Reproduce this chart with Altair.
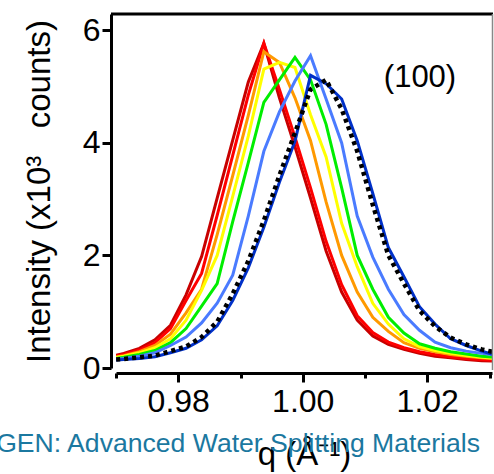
import altair as alt
import pandas as pd

# q grid (Å^-1)
q = [0.96875, 0.97125, 0.97375, 0.97625, 0.97875, 0.98125, 0.98375, 0.98625,
     0.98875, 0.99125, 0.99375, 0.99625, 0.99875, 1.00125, 1.00375, 1.00625,
     1.00875, 1.01125, 1.01375, 1.01625, 1.01875, 1.02125, 1.02375, 1.02625,
     1.02875, 1.03125]

# intensities (x10^3 counts)
dark_red = [0.19, 0.26, 0.35, 0.50, 0.76, 1.30, 1.98, 3.02, 4.05, 5.08, 5.77, 4.80, 3.93,
            3.02, 2.08, 1.35, 0.85, 0.57, 0.42, 0.33, 0.26, 0.21, 0.18, 0.15, 0.13, 0.12]
red = [0.18, 0.24, 0.32, 0.45, 0.70, 1.20, 1.68, 2.71, 3.78, 4.85, 5.77, 4.95, 4.10,
       3.20, 2.25, 1.48, 0.93, 0.63, 0.46, 0.36, 0.29, 0.24, 0.20, 0.17, 0.15, 0.13]
orange = [0.17, 0.22, 0.29, 0.40, 0.60, 0.98, 1.40, 2.37, 3.42, 4.49, 5.62, 5.43, 4.80,
          4.04, 2.95, 2.00, 1.35, 0.90, 0.65, 0.45, 0.35, 0.29, 0.24, 0.21, 0.18, 0.16]
yellow = [0.16, 0.21, 0.27, 0.36, 0.52, 0.85, 1.38, 2.00, 3.05, 4.12, 5.31, 5.43, 5.34,
          4.50, 3.75, 2.57, 1.80, 1.15, 0.78, 0.52, 0.38, 0.31, 0.26, 0.22, 0.19, 0.17]
green = [0.15, 0.19, 0.24, 0.31, 0.45, 0.70, 1.10, 1.50, 2.60, 3.65, 4.72, 5.12, 5.52,
         5.12, 4.33, 3.20, 2.00, 1.40, 0.90, 0.62, 0.43, 0.35, 0.29, 0.25, 0.21, 0.19]
light_blue = [0.15, 0.17, 0.21, 0.27, 0.40, 0.55, 0.80, 1.15, 1.65, 2.70, 3.85, 4.55, 5.10,
              5.55, 4.78, 4.00, 2.70, 1.97, 1.40, 0.95, 0.67, 0.46, 0.36, 0.30, 0.26, 0.23]
dark_blue = [0.13, 0.15, 0.17, 0.20, 0.27, 0.35, 0.50, 0.75, 1.20, 1.78, 2.50, 3.30, 4.03,
             5.20, 5.05, 4.78, 4.04, 3.10, 2.14, 1.62, 1.09, 0.78, 0.52, 0.40, 0.30, 0.22]
dotted = [0.14, 0.16, 0.19, 0.22, 0.30, 0.38, 0.55, 0.82, 1.32, 1.90, 2.62, 3.42, 4.18,
          4.95, 5.12, 4.60, 3.85, 2.90, 2.00, 1.50, 1.02, 0.74, 0.54, 0.42, 0.33, 0.27]

series = [
    ("dark_red", dark_red, "#c80000"),
    ("red", red, "#ff0000"),
    ("orange", orange, "#ff9900"),
    ("yellow", yellow, "#ffff00"),
    ("green", green, "#00ee00"),
    ("light_blue", light_blue, "#4a7bff"),
    ("dark_blue", dark_blue, "#0030c8"),
]

x_ticks = [0.97, 0.98, 0.99, 1.00, 1.01, 1.02, 1.03]
y_ticks = [0, 2, 4, 6]

FONT = "Liberation Sans"

x_enc = alt.X(
    "q:Q",
    scale=alt.Scale(domain=[0.97, 1.0304], nice=False, zero=False),
    axis=alt.Axis(
        values=x_ticks,
        labelExpr="round(datum.value*100) % 2 == 0 ? format(datum.value, '.2f') : ''",
        tickSize={"condition": {"test": "round(datum.value*100) % 2 == 0", "value": 9}, "value": 5},
        tickWidth=3,
        tickColor="black",
        domainWidth=3,
        domainColor="black",
        offset=5,
        grid=False,
        labelFont=FONT,
        labelFontSize=32,
        labelColor="black",
        labelPadding=4,
        labelFlush=False,
        labelOverlap=False,
        title="q (Å⁻¹)",
        titleFont=FONT,
        titleFontSize=33,
        titleFontWeight="normal",
        titleColor="black",
        titlePadding=21,
    ),
)
y_enc = alt.Y(
    "intensity:Q",
    scale=alt.Scale(domain=[0, 6.29], nice=False),
    axis=alt.Axis(
        values=y_ticks,
        tickSize=9,
        tickWidth=3,
        tickColor="black",
        domainWidth=3,
        domainColor="black",
        offset=5,
        grid=False,
        labelFont=FONT,
        labelFontSize=32,
        labelColor="black",
        labelPadding=2,
        title="Intensity (x10³\u00a0\u00a0\u00a0counts)",
        titleFont=FONT,
        titleFontSize=33,
        titleFontWeight="normal",
        titleColor="black",
        titlePadding=26,
    ),
)

layers = []
for name, vals, col in series:
    df = pd.DataFrame({"q": q, "intensity": vals, "series": name})
    layers.append(
        alt.Chart(df).mark_line(color=col, strokeWidth=3, clip=True).encode(x=x_enc, y=y_enc)
    )

df_dot = pd.DataFrame({"q": q, "intensity": dotted})
layers.append(
    alt.Chart(df_dot).mark_line(color="black", strokeWidth=4.5, strokeDash=[4, 4], clip=True)
    .encode(x=x_enc, y=y_enc)
)

one = pd.DataFrame({"a": [0]})
top_rule = alt.Chart(one).mark_rule(color="black", strokeWidth=3).encode(
    x=alt.value(-5), x2=alt.value(377), y=alt.value(0))
right_rule = alt.Chart(one).mark_rule(color="#888888", strokeWidth=1.5).encode(
    x=alt.value(376.5), y=alt.value(0), y2=alt.value(356))

label = alt.Chart(pd.DataFrame({"t": ["(100)"]})).mark_text(
    font=FONT, fontSize=31, color="black", align="center", baseline="alphabetic"
).encode(text="t:N", x=alt.value(304), y=alt.value(73))

watermark = alt.Chart(pd.DataFrame({"t": ["HydroGEN: Advanced Water Splitting Materials"]})).mark_text(
    font=FONT, fontSize=26.6, color="#1b78a0", align="right", baseline="alphabetic"
).encode(text="t:N", x=alt.value(364), y=alt.value(438))

chart = alt.layer(*layers, top_rule, right_rule, label, watermark).properties(
    width=376,
    height=354,
    padding={"left": 116, "top": 14, "right": 2, "bottom": 106},
    autosize=alt.AutoSizeParams(type="none"),
).configure_view(stroke=None)

chart.save("out.html", embed_options={"renderer": "svg", "actions": False})
